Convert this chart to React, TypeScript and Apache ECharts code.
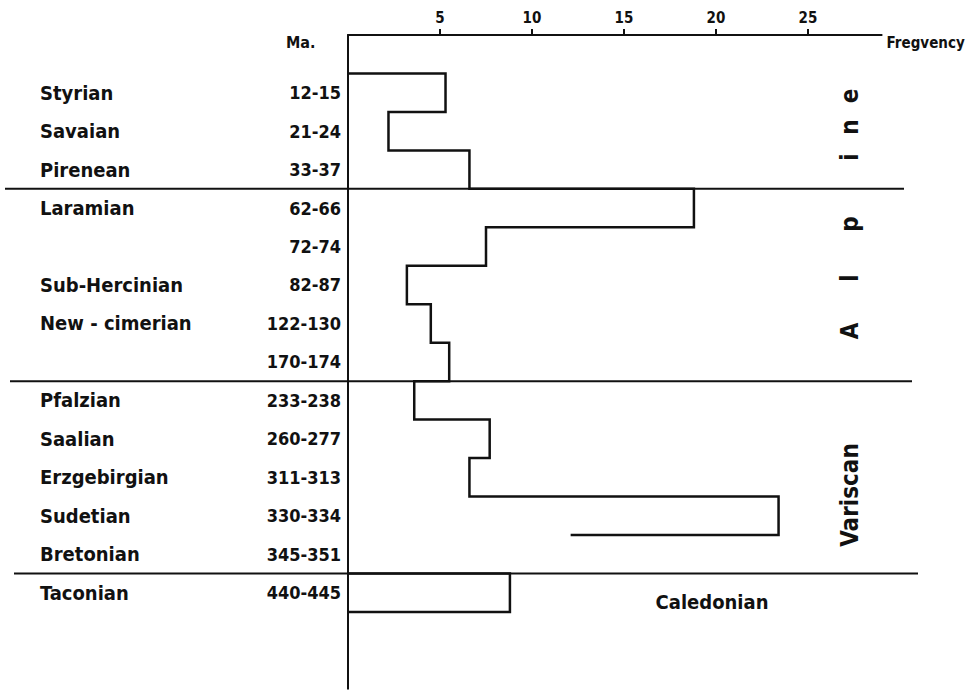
import React, { useEffect, useRef } from "react";
import * as echarts from "echarts";

// ---- data ----
const phaseNames = [
  "Styrian", "Savaian", "Pirenean", "Laramian", "", "Sub-Hercinian", "New - cimerian", "",
  "Pfalzian", "Saalian", "Erzgebirgian", "Sudetian", "Bretonian", "Taconian",
];
const ageRanges = [
  "12-15", "21-24", "33-37", "62-66", "72-74", "82-87", "122-130", "170-174",
  "233-238", "260-277", "311-313", "330-334", "345-351", "440-445",
];
const frequencies: (number | null)[] = [
  5.3, 2.2, 6.6, 18.8, 7.5, 3.2, 4.5, 5.5, 3.6, 7.7, 6.6, 23.4, null, 8.8,
];
const sudetianTail = 12.1; // where the Sudetian lower edge stops
const freqTicks = [5, 10, 15, 20, 25];
const groupStartRows = [3, 8, 13]; // Laramian, Pfalzian, Taconian start new groups
const groupLabels = ["Variscan", "Caledonian"];
const alpineLetters = ["A", "l", "p", "i", "n", "e"];

const FONT = "'DejaVu Sans Condensed', 'Liberation Sans Narrow', 'DejaVu Sans', sans-serif";
const INK = "#111";

export default function App() {
  const ref = useRef<HTMLDivElement>(null);

  useEffect(() => {
    const chart = echarts.init(ref.current!, null, { renderer: "svg" });
    const axisCats = ["", ...ageRanges, "", ""];
    const nameCats = ["", ...phaseNames, "", ""];
    const sepExtents = [
      [5, 904],
      [10, 912],
      [14, 918],
    ];

    const renderItem = (params: any, api: any) => {
      const bw = api.size([0, 1])[1];
      const top = (row: number) => api.coord([0, row + 1])[1] - bw / 2;
      const px = (v: number) => api.coord([v, 1])[0];
      const children: any[] = [];
      const poly = (pts: number[][]) => ({
        type: "polyline",
        shape: { points: pts },
        style: { fill: "none", stroke: INK, lineWidth: 2.5, lineJoin: "miter" },
      });
      let pts: number[][] | null = null;
      for (let i = 0; i < frequencies.length; i++) {
        const v = frequencies[i];
        if (v == null) {
          if (pts) {
            pts.push([px(sudetianTail), top(i)]);
            children.push(poly(pts));
            pts = null;
          }
          continue;
        }
        if (!pts) pts = [[px(0), top(i)]];
        pts.push([px(v), top(i)], [px(v), top(i + 1)]);
      }
      if (pts) {
        pts.push([px(0), top(frequencies.length)]);
        children.push(poly(pts));
      }
      groupStartRows.forEach((r, k) => {
        const y = top(r);
        children.push({
          type: "line",
          shape: { x1: sepExtents[k][0], y1: y, x2: sepExtents[k][1], y2: y },
          style: { stroke: INK, lineWidth: 2 },
        });
      });
      return { type: "group", children };
    };

    const alpineY = [331, 278, 224, 157, 127, 96];

    chart.setOption({
      animation: false,
      backgroundColor: "#fff",
      grid: { left: 348, top: 35, width: 533.6, height: 653.8 },
      xAxis: {
        type: "value",
        position: "top",
        min: 0,
        max: 29,
        interval: 5,
        axisLine: { show: true, lineStyle: { color: INK, width: 2 } },
        axisTick: {
          show: true,
          inside: false,
          length: 6,
          customValues: freqTicks,
          lineStyle: { color: INK, width: 2 },
        },
        axisLabel: {
          customValues: freqTicks,
          margin: 10,
          fontFamily: FONT,
          fontWeight: "bold",
          fontSize: 15,
          color: INK,
        },
        splitLine: { show: false },
        name: "Fregvency",
        nameLocation: "end",
        nameGap: 5,
        nameTextStyle: {
          fontFamily: FONT,
          fontWeight: "bold",
          fontSize: 15,
          color: INK,
          align: "left",
          verticalAlign: "top",
        },
      },
      yAxis: [
        {
          type: "category",
          inverse: true,
          position: "left",
          data: axisCats,
          axisLine: { show: true, onZero: false, lineStyle: { color: INK, width: 2 } },
          axisTick: { show: false },
          axisLabel: {
            interval: 0,
            margin: 7,
            fontFamily: FONT,
            fontWeight: "bold",
            fontSize: 18,
            color: INK,
          },
          splitLine: { show: false },
        },
        {
          type: "category",
          inverse: true,
          position: "left",
          data: nameCats,
          axisLine: { show: false },
          axisTick: { show: false },
          axisLabel: {
            interval: 0,
            margin: 308,
            align: "left",
            fontFamily: FONT,
            fontWeight: "bold",
            fontSize: 20,
            color: INK,
          },
          splitLine: { show: false },
        },
      ],
      series: [
        {
          type: "custom",
          coordinateSystem: "cartesian2d",
          xAxisIndex: 0,
          yAxisIndex: 0,
          clip: false,
          silent: true,
          data: [[0, 0]],
          renderItem,
        },
      ],
      graphic: [
        {
          type: "text",
          x: 286,
          y: 42,
          style: {
            text: "Ma.",
            fontFamily: FONT,
            fontWeight: "bold",
            fontSize: 16,
            fill: INK,
            align: "left",
            verticalAlign: "middle",
          },
        },
        ...alpineLetters.map((ch, i) => ({
          type: "text",
          x: 850,
          y: alpineY[i],
          rotation: Math.PI / 2,
          style: {
            text: ch,
            fontFamily: FONT,
            fontWeight: "bold",
            fontSize: 24,
            fill: INK,
            align: "center",
            verticalAlign: "middle",
          },
        })),
        {
          type: "text",
          x: 850,
          y: 495,
          rotation: Math.PI / 2,
          style: {
            text: groupLabels[0],
            fontFamily: FONT,
            fontWeight: "bold",
            fontSize: 24,
            fill: INK,
            align: "center",
            verticalAlign: "middle",
          },
        },
        {
          type: "text",
          x: 712,
          y: 602,
          style: {
            text: groupLabels[1],
            fontFamily: FONT,
            fontWeight: "bold",
            fontSize: 20,
            fill: INK,
            align: "center",
            verticalAlign: "middle",
          },
        },
      ],
    });
    return () => chart.dispose();
  }, []);

  return (
    <div
      ref={ref}
      style={{ position: "fixed", left: 0, top: 0, width: 973, height: 692, background: "#fff" }}
    />
  );
}
